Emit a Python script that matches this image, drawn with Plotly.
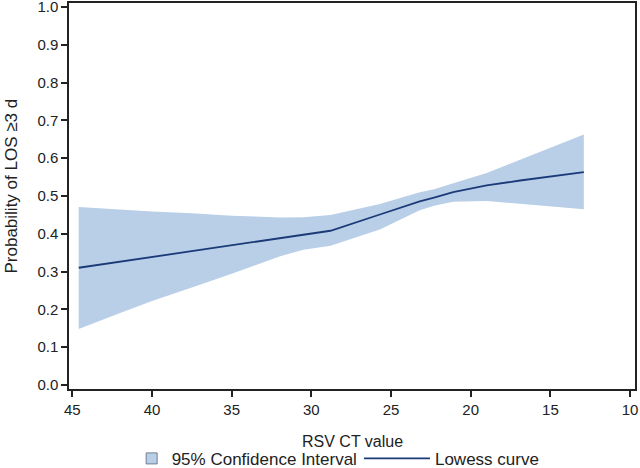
import plotly.graph_objects as go

# Data
ct_value = [44.6, 42.0, 40.0, 37.5, 35.0, 32.0, 30.5, 28.8, 25.7, 23.2, 22.3, 21.1, 19.0, 16.9, 12.9]
lowess = [0.310, 0.326, 0.338, 0.354, 0.369, 0.388, 0.398, 0.408, 0.451, 0.486, 0.496, 0.510, 0.528, 0.541, 0.563]
ci_upper = [0.471, 0.464, 0.459, 0.454, 0.448, 0.443, 0.444, 0.450, 0.479, 0.510, 0.518, 0.534, 0.561, 0.596, 0.663]
ci_lower = [0.148, 0.190, 0.222, 0.258, 0.294, 0.340, 0.358, 0.368, 0.411, 0.462, 0.474, 0.485, 0.487, 0.480, 0.465]

x_ticks = [45, 40, 35, 30, 25, 20, 15, 10]
y_ticks = [0.0, 0.1, 0.2, 0.3, 0.4, 0.5, 0.6, 0.7, 0.8, 0.9, 1.0]

x_title = "RSV CT value"
y_title = "Probability of LOS \u22653 d"

band_color = "#b9cfe8"
line_color = "#1c3a78"
axis_color = "#222222"
font_family = "Liberation Sans, Arial, sans-serif"

fig = go.Figure()

fig.add_trace(go.Scatter(
    x=ct_value + ct_value[::-1],
    y=ci_upper + ci_lower[::-1],
    fill="toself",
    fillcolor=band_color,
    line=dict(width=0, color=band_color),
    mode="lines",
    showlegend=False,
    hoverinfo="skip",
))

# legend entry for the band (square patch)
fig.add_trace(go.Scatter(
    x=[None], y=[None],
    mode="markers",
    marker=dict(symbol="square", size=11, color=band_color,
                line=dict(color="#6f7f90", width=1)),
    name="95% Confidence Interval",
    legend="legend",
))

fig.add_trace(go.Scatter(
    x=ct_value, y=lowess,
    mode="lines",
    line=dict(color=line_color, width=1.8),
    name="Lowess curve",
    legend="legend2",
))

legend_common = dict(
    orientation="h",
    xanchor="left",
    y=-0.181, yanchor="middle",
    font=dict(size=17),
    bgcolor="rgba(0,0,0,0)",
    borderwidth=0,
)

fig.update_layout(
    width=640, height=468,
    margin=dict(l=69, r=5, t=3, b=79, autoexpand=False),
    paper_bgcolor="white",
    plot_bgcolor="white",
    font=dict(family=font_family, size=16, color=axis_color),
    legend=dict(x=0.1107, **legend_common),
    legend2=dict(x=0.5123, itemwidth=66, **legend_common),
    annotations=[
        dict(text=x_title, xref="paper", yref="paper", x=0.5, y=-0.135,
             xanchor="center", yanchor="middle", showarrow=False,
             font=dict(size=16)),
        dict(text=y_title, xref="paper", yref="paper", x=-0.1007, y=0.5246,
             xanchor="center", yanchor="middle", showarrow=False,
             textangle=-90, font=dict(size=17)),
    ],
)

fig.update_xaxes(
    range=[45.21, 9.69],
    tickvals=x_ticks,
    ticktext=[str(v) for v in x_ticks],
    ticks="outside", ticklen=6, tickwidth=1.5, tickcolor=axis_color,
    showline=True, linecolor=axis_color, linewidth=1.5, mirror=True,
    showgrid=False, zeroline=False, automargin=False,
    ticklabeloverflow="allow",
    tickfont=dict(size=15),
)

fig.update_yaxes(
    range=[-0.011, 1.011],
    tickvals=y_ticks,
    ticktext=[f"{v:.1f}" for v in y_ticks],
    ticks="outside", ticklen=6, tickwidth=1.5, tickcolor=axis_color,
    showline=True, linecolor=axis_color, linewidth=1.5, mirror=True,
    showgrid=False, zeroline=False, automargin=False,
    ticklabeloverflow="allow",
    tickfont=dict(size=15),
)

fig.write_html("out.html", config={"displayModeBar": False},
               post_script="document.body.style.margin='0';")
